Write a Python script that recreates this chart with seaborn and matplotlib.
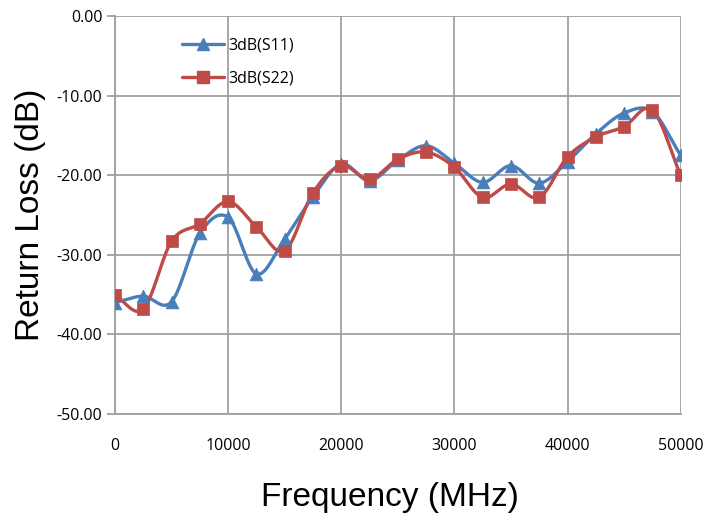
import numpy as np
import pandas as pd
import matplotlib
matplotlib.use("Agg")
import matplotlib.pyplot as plt
import seaborn as sns

# Frequency points (MHz) and return loss readings (dB)
freq = [0, 2500, 5000, 7500, 10000, 12500, 15000, 17500, 20000, 22500, 25000,
        27500, 30000, 32500, 35000, 37500, 40000, 42500, 45000, 47500, 50000]
s11 = [-36.0, -35.2, -35.9, -27.3, -25.3, -32.4, -28.0, -22.7, -18.6, -20.7, -18.1,
       -16.3, -18.5, -20.9, -18.8, -21.0, -18.3, -14.8, -12.2, -12.0, -17.5]
s22 = [-35.1, -36.8, -28.3, -26.1, -23.3, -26.5, -29.5, -22.2, -18.8, -20.5, -18.0,
       -17.1, -19.0, -22.8, -21.1, -22.8, -17.7, -15.2, -13.9, -11.8, -20.0]
names = ["3dB(S11)", "3dB(S22)"]
colors = ["#4a7ebb", "#be4b48"]
markers = ["^", "s"]


def smooth(x, y, n=20):
    # Catmull-Rom style smoothing like Excel's smoothed line
    x = np.asarray(x, float)
    y = np.asarray(y, float)
    px = np.concatenate([[2 * x[0] - x[1]], x, [2 * x[-1] - x[-2]]])
    py = np.concatenate([[2 * y[0] - y[1]], y, [2 * y[-1] - y[-2]]])
    xs, ys = [], []
    t = np.linspace(0, 1, n, endpoint=False)
    for i in range(1, len(px) - 2):
        for arr, out in ((px, xs), (py, ys)):
            p0, p1, p2, p3 = arr[i - 1], arr[i], arr[i + 1], arr[i + 2]
            out.extend(0.5 * (2 * p1 + (-p0 + p2) * t
                              + (2 * p0 - 5 * p1 + 4 * p2 - p3) * t ** 2
                              + (-p0 + 3 * p1 - 3 * p2 + p3) * t ** 3))
    xs.append(x[-1])
    ys.append(y[-1])
    return np.array(xs), np.array(ys)


sns.set_style("white")
plt.rcParams["font.family"] = ["Open Sans", "DejaVu Sans"]
plt.rcParams["text.color"] = "black"
plt.rcParams["axes.labelcolor"] = "black"
plt.rcParams["xtick.color"] = "black"
plt.rcParams["ytick.color"] = "black"

fig = plt.figure(figsize=(7.07, 5.14), dpi=100)
ax = fig.add_axes([0.1627, 0.1946, 0.8, 0.7743])

grid_col = "#a0a0a0"
for v in range(0, 50001, 10000):
    ax.axvline(v, color=grid_col, lw=1.3, zorder=0)
for v in range(-50, 1, 10):
    ax.axhline(v, color=grid_col, lw=1.3, zorder=0)

for name, vals, c, m in zip(names, [s11, s22], colors, markers):
    sx, sy = smooth(freq, vals)
    df = pd.DataFrame({"x": sx, "y": sy})
    sns.lineplot(data=df, x="x", y="y", ax=ax, color=c, lw=2.4, sort=False,
                 zorder=2)
    pts = pd.DataFrame({"x": freq, "y": vals})
    sns.scatterplot(data=pts, x="x", y="y", ax=ax, color=c, marker=m, s=85,
                    edgecolor=c, linewidth=0.5, zorder=3)
    ax.plot([], [], color=c, lw=2.4, marker=m, ms=9, label=name)

ax.set_xlim(0, 50000)
ax.set_ylim(-50, 0)
ax.set_xticks(range(0, 50001, 10000))
ax.set_yticks(range(-50, 1, 10))
ax.set_yticklabels([f"{v:.2f}" for v in range(-50, 1, 10)])
ax.tick_params(axis="y", left=True, length=6, width=1.3, color=grid_col,
               labelcolor="black", labelsize=11.5, pad=3)
ax.tick_params(axis="x", bottom=False, labelcolor="black", labelsize=11.5, pad=14)
for s in ["top", "right"]:
    ax.spines[s].set_visible(False)
for s in ["left", "bottom"]:
    ax.spines[s].set_color(grid_col)
    ax.spines[s].set_linewidth(1.3)

ax.set_xlabel("Frequency (MHz)", fontsize=24, family="Liberation Sans",
              color="black", labelpad=20)
ax.set_ylabel("Return Loss (dB)", fontsize=24, family="Liberation Sans",
              color="black", labelpad=8)
ax.xaxis.set_label_coords(0.486, -0.172)

ax.legend(loc="upper left", bbox_to_anchor=(0.093, 0.982), frameon=False,
          fontsize=11.5, handlelength=2.6, labelspacing=1.05, handletextpad=0.3)

fig.savefig("out.png", dpi=100)
